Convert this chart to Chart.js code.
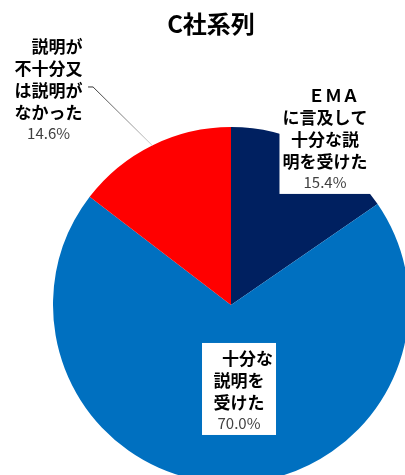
<!DOCTYPE html>
<html>
<head>
<meta charset="utf-8">
<script src="https://cdn.jsdelivr.net/npm/chart.js@4/dist/chart.umd.min.js"></script>
<style>
  html, body { margin: 0; padding: 0; background: #fff; width: 405px; height: 475px; overflow: hidden; }
  canvas { display: block; }
</style>
</head>
<body>
<canvas id="c" width="420" height="490"></canvas>
<script>
// Chart title
const title = 'C社系列';
// Categories and how each one wraps in its label
const categories = [
  'ＥＭＡに言及して十分な説明を受けた',
  '十分な説明を受けた',
  '説明が不十分又は説明がなかった'
];
const labelLines = [
  ['　ＥＭＡ', 'に言及して', '十分な説', '明を受けた'],
  ['　十分な', '説明を', '受けた'],
  ['　説明が', '不十分又', 'は説明が', 'なかった']
];
// Share of respondents (%)
const values = [15.4, 70.0, 14.6];
const colors = ['#002060', '#0070C0', '#FF0000'];

const BOLD = 'bold 17px "Noto Sans CJK JP", sans-serif';
const PCT = '15px "Noto Sans CJK JP", sans-serif';
const LINE = 22;   // pitch between bold lines
const PCT_GAP = 20; // pitch from last bold line to the percentage

// Label block centres, in units of the pie radius from the pie centre
const labelOffsets = [[0.528, -0.933], [0.045, 0.483], [-1.025, -1.208]];

const sliceLabels = {
  id: 'sliceLabels',
  afterDatasetsDraw(chart) {
    const ctx = chart.ctx;
    const arcs = chart.getDatasetMeta(0).data;
    const data = chart.data.datasets[0].data;

    // title
    ctx.save();
    ctx.fillStyle = '#000';
    ctx.font = 'bold 24px "Noto Sans CJK JP", sans-serif';
    ctx.textAlign = 'center';
    ctx.textBaseline = 'middle';
    ctx.fillText(title, 211, 24);
    ctx.restore();

    arcs.forEach((arc, i) => {
      const { x, y, outerRadius, startAngle, endAngle } =
        arc.getProps(['x', 'y', 'outerRadius', 'startAngle', 'endAngle'], true);
      const lines = labelLines[i];
      const cx = x + labelOffsets[i][0] * outerRadius;
      const cy = y + labelOffsets[i][1] * outerRadius;
      const span = (lines.length - 1) * LINE + PCT_GAP;
      const first = cy - span / 2;

      ctx.save();
      ctx.font = BOLD;
      let w = 0;
      lines.forEach(l => { w = Math.max(w, ctx.measureText(l).width); });
      // white label background
      const top = first - 16;
      const bottom = first + span + 12;
      ctx.fillStyle = '#fff';
      ctx.fillRect(cx - w / 2 - 3, top, w + 6, bottom - top);

      // leader line for the small left slice
      if (i === 2) {
        const mid = (startAngle + endAngle) / 2;
        const ex = x + Math.cos(mid) * outerRadius;
        const ey = y + Math.sin(mid) * outerRadius;
        const sx = cx + 39.5, sy = first + 2 * LINE - 4;
        const g = ctx.createLinearGradient(sx, sy, ex, ey);
        g.addColorStop(0, '#303030');
        g.addColorStop(1, '#d0d0d0');
        ctx.strokeStyle = g;
        ctx.lineWidth = 1;
        ctx.beginPath();
        ctx.moveTo(sx, sy);
        ctx.lineTo(sx + 5, sy);
        ctx.lineTo(ex, ey);
        ctx.stroke();
      }

      ctx.fillStyle = '#000';
      ctx.textAlign = 'center';
      ctx.textBaseline = 'middle';
      lines.forEach((l, k) => ctx.fillText(l, cx, first + k * LINE));
      ctx.font = PCT;
      ctx.fillStyle = '#404040';
      ctx.fillText(data[i].toFixed(1) + '%', cx, first + (lines.length - 1) * LINE + PCT_GAP);
      ctx.restore();
    });
  }
};

new Chart(document.getElementById('c'), {
  type: 'pie',
  data: {
    labels: categories,
    datasets: [{
      data: values,
      backgroundColor: colors,
      borderWidth: 0,
      hoverOffset: 0
    }]
  },
  options: {
    responsive: false,
    animation: false,
    devicePixelRatio: 1,
    events: [],
    layout: { padding: { left: 53, right: 11, top: 127, bottom: 7 } },
    plugins: {
      legend: { display: false },
      title: { display: false },
      tooltip: { enabled: false }
    }
  },
  plugins: [sliceLabels]
});
</script>
</body>
</html>
